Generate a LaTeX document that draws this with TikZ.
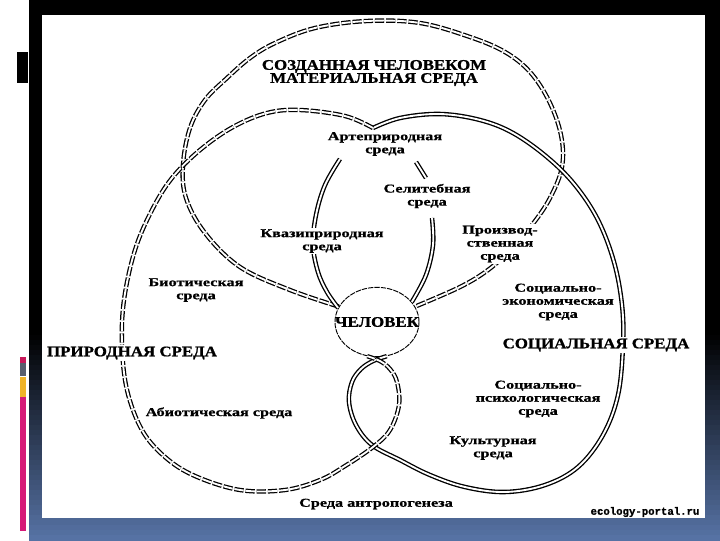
\documentclass[tikz,border=0pt]{standalone}
\usepackage{fontspec}
\usetikzlibrary{shapes.geometric}
\newfontfamily\capsfont[FakeStretch=1.15,FakeBold=1]{Liberation Serif}
\newfontfamily\lblfont[FakeStretch=1.35,FakeBold=0.8]{Liberation Serif}
\newfontfamily\wmfont[FakeBold=1]{Liberation Mono}
\definecolor{slideblue}{RGB}{86,114,164}
\definecolor{barred}{RGB}{200,24,90}
\definecolor{bargray}{RGB}{88,94,110}
\definecolor{bargold}{RGB}{240,180,40}
\definecolor{barpink}{RGB}{214,26,120}

\tikzset{
  natline/.style={draw, line width=0.95pt, double=white, double distance=1.4pt, dash pattern=on 7pt off 1.4pt},
  socline/.style={draw, line width=1pt, double=white, double distance=1.4pt},
  bigtxt/.style={font=\capsfont\bfseries\fontsize{11}{9.8}\selectfont, align=center, inner sep=1pt},
  smalltxt/.style={font=\lblfont\bfseries\fontsize{9}{9.8}\selectfont, align=center, fill=white, inner sep=1pt},
}

\begin{document}
\begin{tikzpicture}[x=0.75pt,y=-0.75pt]
\useasboundingbox (0,0) rectangle (720,540);
% slide background
\fill[white] (0,0) rectangle (720,540);
\fill[black] (29,0) rectangle (720,331);
\foreach \k in {0,...,41}{
  \pgfmathtruncatemacro{\p}{100*\k/41}
  \fill[slideblue!\p!black] (29,330+5*\k) rectangle (720,336+5*\k);
}
\fill[white] (42,15) rectangle (705,518);
\fill[black] (17,52) rectangle (28,83);
\fill[barred] (20,357) rectangle (26,363);
\fill[bargray] (20,363) rectangle (26,376);
\fill[bargold] (20,377) rectangle (26,397);
\fill[barpink] (20,397) rectangle (26,531);

% man in the middle
\node (man) [ellipse, draw, line width=0.7pt, dash pattern=on 4pt off 0.8pt, fill=white,
  minimum width=63pt, minimum height=52pt, inner sep=0pt,
  label={[bigtxt,font=\capsfont\bfseries\fontsize{11}{11}\selectfont]center:ЧЕЛОВЕК}] at (377,322) {};

\coordinate (dip) at (373,128);
\coordinate (kvtop) at (340,159);
\coordinate (seltop) at (432,218);
\coordinate (artA) at (416,162);
\coordinate (artB) at (426,178);

% created environment
\draw[natline] plot[smooth, tension=0.6] coordinates {(man.158) (290,290) (240,267) (205,233) (186,198) (183,165) (190,128) (205,100) (227,78) (250,58) (275,43) (315,28) (367,21) (420,23) (470,37) (505,52) (530,72) (549,101) (561,135) (562,167) (550,198) (532,225) (510,250) (488,270) (460,287) (man.22)};
% social environment
\draw[socline] plot[smooth, tension=0.6] coordinates {(dip) (400,118) (440,114) (480,120) (513,133) (547,157) (575,185) (598,220) (614,262) (622,305) (623,345) (618,395) (603,435) (578,467) (545,485) (505,492) (465,487) (430,475) (400,460) (372,445) (356,425) (349,402) (352,382) (361,369) (373,361) (man.-74)};
% natural environment
\draw[natline] plot[smooth, tension=0.6] coordinates {(dip) (345,116) (300,110) (267,113) (233,127) (200,150) (172,178) (152,210) (135,250) (124,300) (122,345) (127,390) (142,430) (165,457) (195,476) (240,490) (285,490) (320,480) (345,466) (373,447) (390,430) (399,405) (397,382) (390,369) (380,361) (man.-106)};
% inner lines
\draw[socline] plot[smooth, tension=0.6] coordinates {(kvtop) (325,185) (316,215) (313,245) (318,272) (327,292) (man.160)};
\draw[socline] plot[smooth, tension=0.6] coordinates {(seltop) (433,245) (426,275) (man.30)};
\draw[socline] (artA) -- (artB);

% labels
\node (built) [bigtxt] at (374,73) {СОЗДАННАЯ ЧЕЛОВЕКОМ\\МАТЕРИАЛЬНАЯ СРЕДА};
\node (nature) [bigtxt, fill=white] at (132,353) {ПРИРОДНАЯ СРЕДА};
\node (social) [bigtxt, fill=white] at (596,345) {СОЦИАЛЬНАЯ СРЕДА};
\node (arte) [smalltxt] at (385,144) {Артеприродная\\среда};
\node (selit) [smalltxt] at (427,196) {Селитебная\\среда};
\node (kvazi) [smalltxt] at (322,241) {Квазиприродная\\среда};
\node (proizv) [smalltxt] at (500,244) {Производ-\\ственная\\среда};
\node (biot) [smalltxt] at (196,290) {Биотическая\\среда};
\node (socec) [smalltxt] at (558,302) {Социально-\\экономическая\\среда};
\node (abiot) [smalltxt] at (219,413) {Абиотическая среда};
\node (socps) [smalltxt] at (538,399) {Социально-\\психологическая\\среда};
\node (cult) [smalltxt] at (493,448) {Культурная\\среда};
\node (anthro) [smalltxt] at (376,504) {Среда антропогенеза};
\node (site) [font=\wmfont\bfseries\fontsize{8}{8}\selectfont, inner sep=1pt] at (645,512) {ecology-portal.ru};
\end{tikzpicture}
\end{document}
